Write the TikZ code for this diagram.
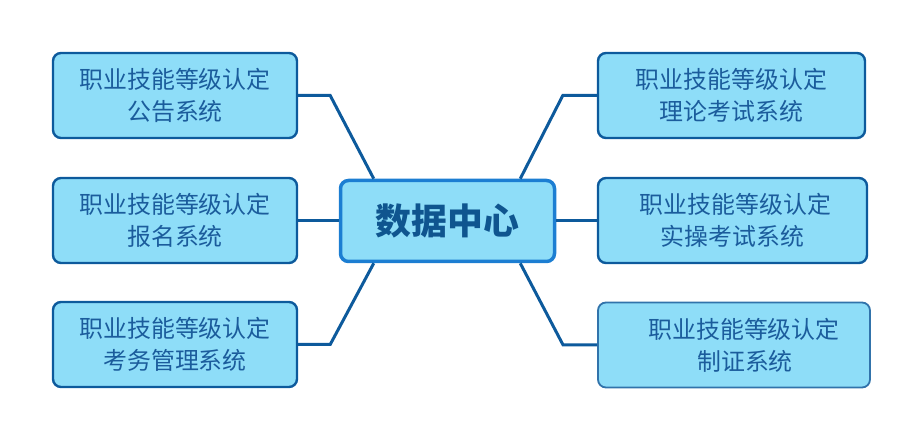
\documentclass[tikz,border=0pt]{standalone}
\usepackage{fontspec}
\usepackage{tikz}
\usetikzlibrary{calc}
\newfontfamily\cjk{Noto Sans CJK SC}
\definecolor{boxfill}{HTML}{8EDDF8}
\definecolor{edge}{HTML}{0D5A9C}
\definecolor{hub}{HTML}{1C7ED2}
\definecolor{ink}{HTML}{1B5C9C}
\definecolor{hubink}{HTML}{0F558F}
\tikzset{
  sys/.style={draw=edge, fill=boxfill, line width=2.4bp, rounded corners=8bp, minimum width=244bp, minimum height=85bp, inner sep=0pt, align=center, text=ink, font=\cjk\fontsize{24}{32}\selectfont},
  hubbox/.style={draw=hub, fill=boxfill, line width=3.5bp, rounded corners=8bp, minimum width=214bp, minimum height=81bp, inner sep=0pt, text=hubink, font=\cjk\bfseries\fontsize{36}{40}\selectfont},
  link/.style={draw=edge, line width=3bp, line join=miter},
}
\begin{document}
\begin{tikzpicture}[x=1bp,y=-1bp]
  \useasboundingbox (0,0) rectangle (923,440);
  % hub
  \node[hubbox] (dc) at (447.5,221) {数据中心};
  % left column
  \node[sys] (gonggao) at (175,95.5) {职业技能等级认定\\公告系统};
  \node[sys] (baoming) at (175,220.5) {职业技能等级认定\\报名系统};
  \node[sys] (kaowu) at (175,344.5) {职业技能等级认定\\考务管理系统};
  % right column
  \node[sys, minimum width=267bp] (lilun) at (731.5,95.5) {职业技能等级认定\\理论考试系统};
  \node[sys, minimum width=269bp] (shicao) at (732.5,220.5) {\hspace*{6bp}职业技能等级认定\\实操考试系统};
  \node[sys, minimum width=272bp, line width=1.8bp, draw=edge!85] (zhizheng) at (734,345) {\hspace*{20bp}职业技能等级认定\\\hspace*{22bp}制证系统};
  % connectors
  \draw[link] (gonggao.east) -- ++(32,0) -- ($(dc.north west)+(35,0)$);
  \draw[link] (baoming.east) -- (dc.west |- baoming.east);
  \draw[link] (kaowu.east) -- ++(32,0) -- ($(dc.south west)+(35,0)$);
  \draw[link] (lilun.west) -- ++(-34,0) -- ($(dc.north east)+(-36,0)$);
  \draw[link] (shicao.west) -- (dc.east |- shicao.west);
  \draw[link] (zhizheng.west) -- ++(-34,0) -- ($(dc.south east)+(-36,0)$);
\end{tikzpicture}
\end{document}
